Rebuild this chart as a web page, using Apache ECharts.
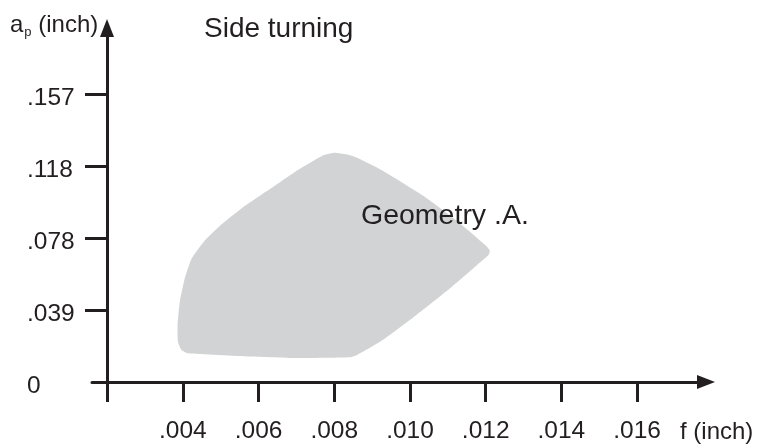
<!DOCTYPE html>
<html>
<head>
<meta charset="utf-8">
<script src="https://cdn.jsdelivr.net/npm/echarts@6/dist/echarts.min.js"></script>
<style>
  html, body { margin: 0; padding: 0; background: #fff; }
  #chart { width: 764px; height: 444px; }
</style>
</head>
<body>
<div id="chart"></div>
<script>
// tick positions and labels (a_p ticks are 1..4 mm expressed in inch)
const xTickValues = [0.002, 0.004, 0.006, 0.008, 0.010, 0.012, 0.014, 0.016];
const xLabelValues = [0.004, 0.006, 0.008, 0.010, 0.012, 0.014, 0.016];
const xTickLabels = ['.004', '.006', '.008', '.010', '.012', '.014', '.016'];
const yTickValues = [0.03937, 0.07874, 0.11811, 0.15748];
const yLabelValues = [0, 0.03937, 0.07874, 0.11811, 0.15748];
const yTickLabels = ['0', '.039', '.078', '.118', '.157'];

// outline of the "Geometry .A." working area
const shapeF = [
  0.00801, 0.00832, 0.00859, 0.00929, 0.01035, 0.01123, 0.01198, 0.01211,
  0.01207, 0.01176, 0.01105, 0.01017, 0.00929, 0.00859, 0.00841, 0.00709,
  0.00577, 0.00414, 0.00396, 0.00387, 0.00386, 0.00392, 0.00405, 0.00423,
  0.00458, 0.00497, 0.00559, 0.00630, 0.00700, 0.00771
];
const shapeAp = [
  0.1257, 0.1248, 0.1230, 0.1157, 0.1021, 0.0885, 0.0752, 0.0721,
  0.0694, 0.0639, 0.0512, 0.0367, 0.0231, 0.0146, 0.0135, 0.0131,
  0.0140, 0.0158, 0.0176, 0.0222, 0.0312, 0.0440, 0.0567, 0.0676,
  0.0776, 0.0854, 0.0957, 0.1057, 0.1157, 0.1243
];

const ink = '#231f20';
const font = 'Liberation Sans, Arial, Helvetica, sans-serif';

const chart = echarts.init(document.getElementById('chart'));

const option = {
  animation: false,
  title: [
    {
      text: 'Side turning',
      left: 199,
      top: 10,
      textStyle: { color: ink, fontFamily: font, fontSize: 28, fontWeight: 'normal' }
    },
    {
      text: 'Geometry .A.',
      left: 356,
      top: 197,
      textStyle: { color: ink, fontFamily: font, fontSize: 28.5, fontWeight: 'normal' }
    },
    {
      text: '{a|a}{p|p}{a| (inch)}',
      left: 5,
      top: 6,
      textStyle: {
        rich: {
          a: { color: ink, fontFamily: font, fontSize: 24, fontWeight: 'normal', lineHeight: 28 },
          p: { color: ink, fontFamily: font, fontSize: 13, fontWeight: 'normal', lineHeight: 28, padding: [14, 0, 0, 1] }
        }
      }
    },
    {
      text: 'f (inch)',
      left: 675,
      top: 415,
      textStyle: { color: ink, fontFamily: font, fontSize: 24, fontWeight: 'normal' }
    }
  ],
  grid: { left: 92, right: 58, top: 28, bottom: 60 },
  xAxis: {
    type: 'value',
    min: 0.0016,
    max: 0.01782,
    splitLine: { show: false },
    axisLine: {
      show: true,
      onZero: false,
      symbol: ['none', 'triangle'],
      symbolSize: [14, 18],
      lineStyle: { color: ink, width: 3 }
    },
    axisTick: {
      show: true,
      length: 20,
      customValues: xTickValues,
      lineStyle: { color: ink, width: 3 }
    },
    axisLabel: {
      customValues: xLabelValues,
      margin: 37,
      color: ink,
      fontFamily: font,
      fontSize: 24.5,
      formatter: (v) => xTickLabels[xLabelValues.findIndex((t) => Math.abs(t - v) < 1e-7)]
    }
  },
  yAxis: {
    type: 'value',
    min: 0,
    max: 0.194,
    offset: -15,
    splitLine: { show: false },
    axisLine: {
      show: true,
      onZero: false,
      symbol: ['none', 'triangle'],
      symbolSize: [14, 18],
      lineStyle: { color: ink, width: 3 }
    },
    axisTick: {
      show: true,
      length: 22,
      customValues: yTickValues,
      lineStyle: { color: ink, width: 3 }
    },
    axisLabel: {
      customValues: yLabelValues,
      margin: 80,
      align: 'left',
      verticalAlign: 'top',
      lineHeight: 8,
      color: ink,
      fontFamily: font,
      fontSize: 24.5,
      formatter: (v) => yTickLabels[yLabelValues.findIndex((t) => Math.abs(t - v) < 1e-7)]
    }
  },
  series: [{
    type: 'custom',
    data: [[shapeF[0], shapeAp[0]]],
    renderItem: (params, api) => {
      const points = shapeF.map((f, i) => api.coord([f, shapeAp[i]]));
      return {
        type: 'polygon',
        shape: { points: points, smooth: 0.15 },
        style: { fill: '#d1d3d4' }
      };
    },
    silent: true
  }]
};

chart.setOption(option);
</script>
</body>
</html>
